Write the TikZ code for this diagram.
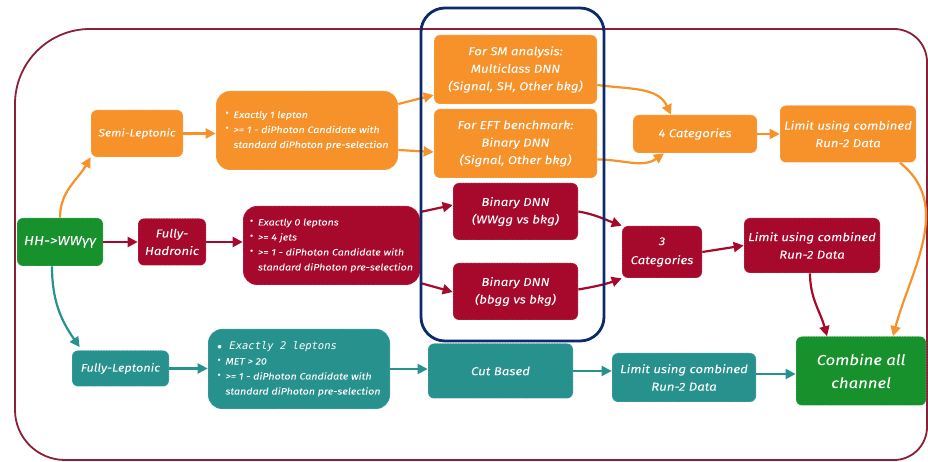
\documentclass[tikz,border=0pt]{standalone}
\usepackage{fontspec}
\setmainfont{Fira Sans}[FakeStretch=1.15, ItalicFeatures={FakeBold=1.2}]
\newfontfamily\monofont{DejaVu Sans Mono}
\usetikzlibrary{arrows.meta}

\definecolor{orangeC}{HTML}{F7922B}
\definecolor{redC}{HTML}{A6092B}
\definecolor{tealC}{HTML}{27918E}
\definecolor{greenC}{HTML}{16912C}
\definecolor{frameC}{HTML}{8A1F38}
\definecolor{navyC}{HTML}{0D2A6C}

% small raised bullet used in the selection lists
\newcommand\selmark{\makebox[8pt][l]{\raisebox{3pt}{$\scriptscriptstyle\bullet$}}}
\newcommand\selgap{\hspace*{8pt}}

\tikzset{
  box/.style={rounded corners=6pt, inner sep=0pt, text=white, align=center,
    font=\fontsize{11.5}{17.5}\selectfont\itshape,
    draw=white, draw opacity=0.35, line width=0.7pt, dash pattern=on 1.2pt off 1.4pt},
  sz/.style 2 args={minimum width=#1pt, minimum height=#2pt},
  selbox/.style={box, rounded corners=14pt, align=left,
    font=\fontsize{9.3}{15}\selectfont\itshape},
  obox/.style={box, fill=orangeC},
  rbox/.style={box, fill=redC},
  tbox/.style={box, fill=tealC},
  gbox/.style={box, fill=greenC},
  flow/.style={line width=2.2pt, -{Triangle[length=10pt,width=10pt]}},
  oflow/.style={flow, orangeC},
  rflow/.style={flow, redC},
  tflow/.style={flow, tealC},
}

\begin{document}
\begin{tikzpicture}[x=1pt,y=1pt]
\useasboundingbox (0,0) rectangle (928,462);
\fill[white] (0,0) rectangle (928,462);

% outer frame
\draw[frameC, line width=1.8pt]
  (15,330) -- (15,52) .. controls (15,24.4) and (37.4,2) .. (65,2)
  -- (894,2) .. controls (912.2,2) and (927,16.8) .. (927,35)
  -- (927,400) .. controls (927,418.2) and (912.2,433) .. (894,433)
  -- (90,433) .. controls (48.6,433) and (15,399.4) .. (15,358) -- cycle;

% start
\node[gbox, sz={86}{48}, font=\fontsize{13}{17}\selectfont\itshape] (hh) at (60,220) {HH->WWγγ};

% semi-leptonic branch
\node[obox, sz={92}{47}, font=\fontsize{10.5}{17}\selectfont\itshape] (semi) at (137,328.5) {Semi-Leptonic};
\node[selbox, fill=orangeC, sz={182}{79}] (sel1) at (307,331.5)
  {\selmark Exactly 1 lepton\\
   \selmark >= 1 - diPhoton Candidate with\\
   \selgap standard diPhoton pre-selection};
\node[obox, sz={163}{69}] (sm) at (515.5,392.5)
  {For SM analysis:\\Multiclass DNN\\(Signal, SH, Other bkg)};
\node[obox, sz={163}{69}] (eft) at (515.5,318.5)
  {For EFT benchmark:\\Binary DNN\\(Signal, Other bkg)};
\node[obox, sz={124}{38}] (cat4) at (695,328) {4 Categories};
\node[obox, sz={136}{57}] (limo) at (848,328) {Limit using combined\\Run-2 Data};

% fully-hadronic branch
\node[rbox, sz={68}{47}] (had) at (172,220) {Fully-\\Hadronic};
\node[selbox, fill=redC, sz={177}{79}] (sel2) at (331.5,216.5)
  {\selmark Exactly 0 leptons\\
   \selmark >= 4 jets\\
   \selmark >= 1 - diPhoton Candidate with\\
   \selgap standard diPhoton pre-selection};
\node[rbox, sz={125}{57}] (wwgg) at (515.5,250.5) {Binary DNN\\(WWgg vs bkg)};
\node[rbox, sz={125}{57}] (bbgg) at (515.5,170.5) {Binary DNN\\(bbgg vs bkg)};
\node[rbox, sz={80}{52}, font=\fontsize{11.5}{19}\selectfont\itshape] (cat3) at (662,210) {3\\Categories};
\node[rbox, sz={136}{55}] (limr) at (812,216.5) {Limit using combined\\Run-2 Data};

% fully-leptonic branch
\node[tbox, sz={97}{36}, font=\fontsize{11}{17}\selectfont\itshape] (fullep) at (120.5,93.5) {Fully-Leptonic};
\node[selbox, fill=tealC, sz={182}{80}] (sel3) at (299,93)
  {\makebox[12pt][l]{$\bullet$}{\monofont\itshape\fontsize{10.5}{15}\selectfont Exactly 2 leptons}\\
   \selmark MET > 20\\
   \selmark >= 1 - diPhoton Candidate with\\
   \selgap standard diPhoton pre-selection};
\node[tbox, sz={145}{55}] (cut) at (500.5,91) {Cut Based};
\node[tbox, sz={144}{49}] (limt) at (684,84.5) {Limit using combined\\Run-2 Data};

% final combination
\node[gbox, sz={130}{69}, font=\fontsize{14.5}{23}\selectfont\itshape] (comb) at (861,91) {Combine all\\channel};

% connectors from the start node
\draw[oflow] (hh.north) to[out=90,in=240] (semi.south west);
\draw[rflow] (hh.east) -- (had.west);
\draw[tflow] ([xshift=-8pt]hh.south) to[out=270,in=125] ([xshift=8pt,yshift=3pt]fullep.north west);

% semi-leptonic connectors
\draw[oflow] (semi.east) -- (semi.east -| sel1.west);
\draw[oflow] ([yshift=26.5pt]sel1.east) -- ([yshift=-25.5pt]sm.west);
\draw[oflow] ([yshift=-19.5pt]sel1.east) -- ([yshift=-8.5pt]eft.west);
\draw[oflow] ([yshift=-15.5pt]sm.east) to[out=-8,in=115] ([xshift=-24pt]cat4.north);
\draw[oflow] ([yshift=-16pt]eft.east) to[out=0,in=215] ([xshift=-31pt]cat4.south);
\draw[oflow] (cat4.east) -- (cat4.east -| limo.west);
\draw[oflow] ([xshift=52pt]limo.south) to[out=-38,in=75] ([xshift=32pt]comb.north);

% fully-hadronic connectors
\draw[rflow] (had.east) -- (had.east -| sel2.west);
\draw[rflow] ([yshift=33.5pt]sel2.east) -- ([yshift=6.5pt]wwgg.west);
\draw[rflow] ([yshift=-37.5pt]sel2.east) -- ([yshift=-0.5pt]bbgg.west);
\draw[rflow] (wwgg.east) to[out=-10,in=160] (cat3.north west);
\draw[rflow] ([yshift=2pt]bbgg.east) to[out=10,in=200] (cat3.south west);
\draw[rflow] (cat3.east) -- (limr.west);
\draw[rflow] ([xshift=-2pt]limr.south) to[out=-90,in=105] ([xshift=-34pt]comb.north);

% fully-leptonic connectors
\draw[tflow] (fullep.east) -- (fullep.east -| sel3.west);
\draw[tflow] (sel3.east) -- (sel3.east -| cut.west);
\draw[tflow] (cut.east) -- (cut.east -| limt.west);
\draw[tflow] ([yshift=3.5pt]limt.east) -- ([yshift=3.5pt]limt.east -| comb.west);

% DNN group outline
\draw[navyC, line width=2.8pt, rounded corners=24pt] (421,121) rectangle (604,454);
\end{tikzpicture}
\end{document}
